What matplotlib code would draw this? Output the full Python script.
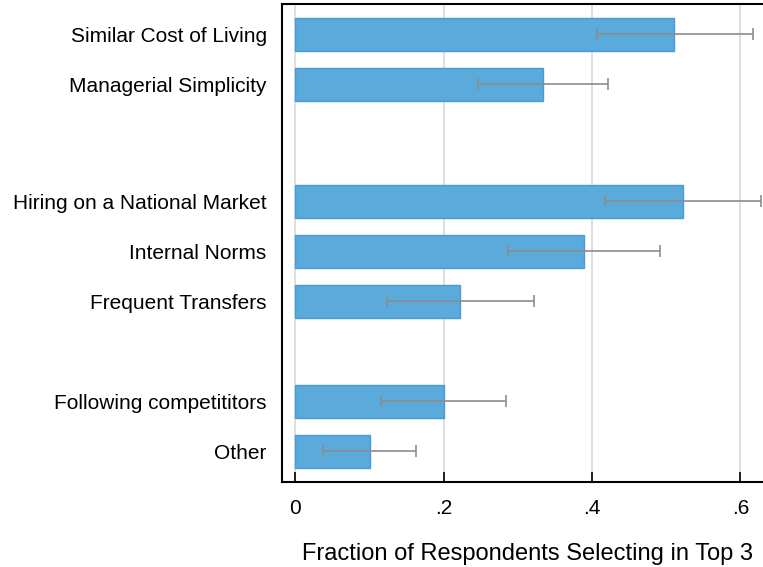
import matplotlib.pyplot as plt

# Reasons, top to bottom
labels = [
    "Similar Cost of Living",
    "Managerial Simplicity",
    "Hiring on a National Market",
    "Internal Norms",
    "Frequent Transfers",
    "Following competititors",
    "Other",
]
# Row positions (groups separated by blank space)
rows = [0, 1, 3.34, 4.34, 5.34, 7.34, 8.34]
fraction = [0.511, 0.334, 0.523, 0.389, 0.222, 0.200, 0.100]
ci_low = [0.406, 0.246, 0.417, 0.286, 0.123, 0.115, 0.037]
ci_high = [0.617, 0.421, 0.628, 0.492, 0.322, 0.284, 0.163]

xticks = [0, 0.2, 0.4, 0.6]
xticklabels = ["0", ".2", ".4", ".6"]

plt.rcParams["font.family"] = ["Liberation Sans", "DejaVu Sans"]

fig = plt.figure(figsize=(7.63, 5.67), dpi=100)
W, H = 763, 567
left, right, top, bottom = 282, 772, 4, 482
ax = fig.add_axes([left / W, 1 - bottom / H, (right - left) / W, (bottom - top) / H])

# Bars with confidence intervals
ax.barh(rows, fraction, height=0.66, color="#5aaadb", edgecolor="#4a9bd5", linewidth=1, zorder=2)
xerr = [[f - lo for f, lo in zip(fraction, ci_low)], [hi - f for f, hi in zip(fraction, ci_high)]]
ax.errorbar(fraction, rows, xerr=xerr, fmt="none", ecolor="#8c8c8c", elinewidth=1.2,
            capsize=4, capthick=1.2, zorder=3)

ax.set_xlim(-0.0182, 0.6426)
ax.set_ylim(8.954, -0.604)
ax.set_xticks(xticks)
ax.set_xticklabels(xticklabels, fontsize=15)
ax.set_yticks(rows)
ax.set_yticklabels(labels, fontsize=15)
ax.tick_params(axis="y", length=0, pad=11)
ax.tick_params(axis="x", direction="in", length=7, width=1.2, pad=12)
ax.grid(axis="x", color="#dcdcdc", linewidth=1.3, zorder=0)
ax.set_axisbelow(True)

for side in ["left", "bottom", "top"]:
    ax.spines[side].set_linewidth(1.5)
ax.spines["right"].set_visible(False)

ax.set_xlabel("Fraction of Respondents Selecting in Top 3", fontsize=17, labelpad=18)

plt.savefig("out.png", dpi=100)
plt.close()
